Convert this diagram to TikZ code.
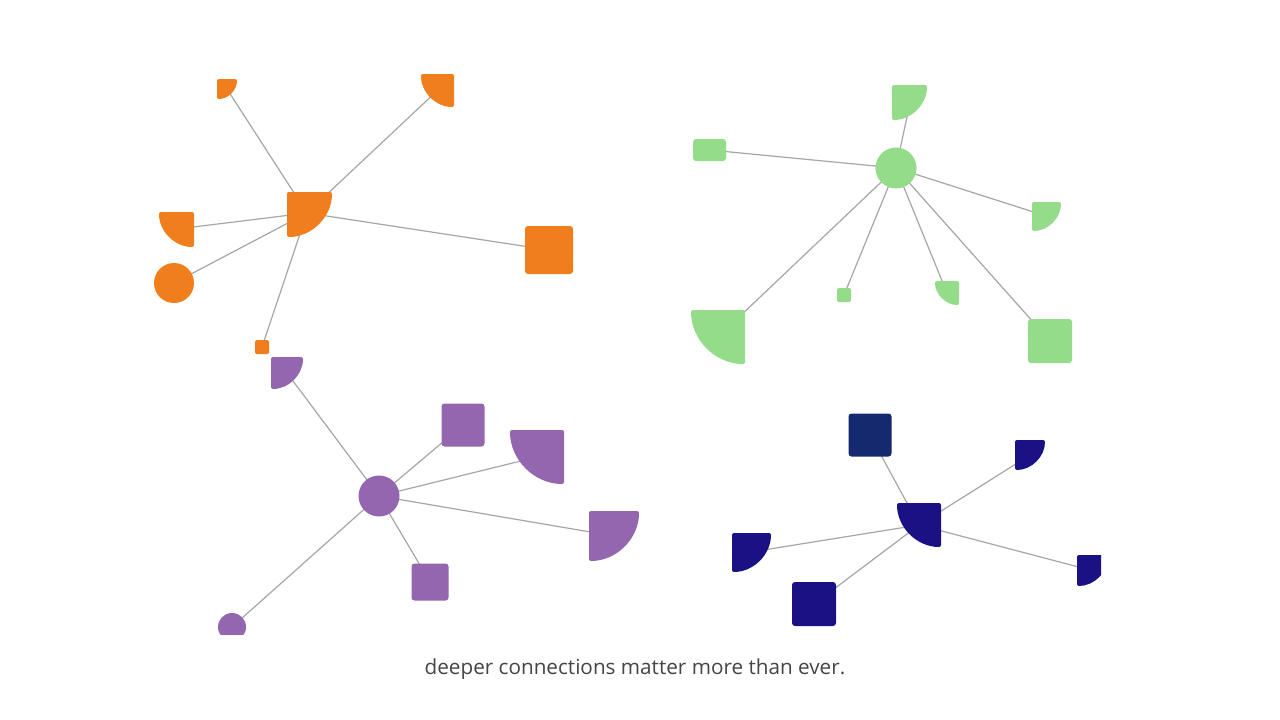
\documentclass[tikz,border=0pt]{standalone}
\usepackage{fontspec}
\setmainfont{Open Sans}
\usetikzlibrary{positioning}

\definecolor{orng}{HTML}{F07E1C}
\definecolor{grn}{HTML}{94DC8A}
\definecolor{purp}{HTML}{9366AF}
\definecolor{navy}{HTML}{1A1284}
\definecolor{navytwo}{HTML}{15296F}
\definecolor{linkgray}{HTML}{A6A6A6}
\definecolor{txtgray}{HTML}{454545}

\tikzset{
  link/.style={draw=linkgray, line width=1.2pt},
  sqnode/.style={rectangle, rounded corners=3pt, inner sep=0pt, minimum size=#1},
  dot/.style={circle, inner sep=0pt, minimum size=#1},
}

% quarter disc: colour, corner x, corner y, radius, side (1 = opens right, -1 = opens left)
\newcommand{\qdisc}[5]{%
  \fill[#1, rounded corners=2pt] ({#2+(#5)*#4},#3)
    arc[start angle={90-90*(#5)}, end angle=90, radius=#4] -- (#2,#3) -- cycle;}

\begin{document}
\begin{tikzpicture}[x=1pt, y=-1pt]

    \fill[white] (0,0) rectangle (1280,720);
    \useasboundingbox (0,0) rectangle (1280,720);

    % centres
    \coordinate (oh) at (307,213);
    \coordinate (o1) at (227,89);
    \coordinate (o2) at (438,90);
    \coordinate (o3) at (177,229);
    \coordinate (o4) at (174,283);
    \coordinate (o5) at (262,347);
    \coordinate (o6) at (549,250);

    \coordinate (gh) at (896,168);
    \coordinate (g1) at (910,103);
    \coordinate (g2) at (709.5,150);
    \coordinate (g3) at (1046,216);
    \coordinate (g4) at (718,337);
    \coordinate (g5) at (844,295);
    \coordinate (g6) at (947,293);
    \coordinate (g7) at (1050,341);

    \coordinate (ph) at (379,496);
    \coordinate (p1) at (287,373);
    \coordinate (p2) at (463,425);
    \coordinate (p3) at (537,457);
    \coordinate (p4) at (614,536);
    \coordinate (p5) at (430,582);
    \coordinate (p6) at (232,627);

    \coordinate (nh) at (919,525);
    \coordinate (n1) at (870,435);
    \coordinate (n2) at (1030,455);
    \coordinate (n3) at (751,552);
    \coordinate (n4) at (814,604);
    \coordinate (n5) at (1090,570);

    % links
    \foreach \t in {o1,o2,o3,o4,o5,o6} \draw[link] (oh) -- (\t);
    \foreach \t in {g1,g2,g3,g4,g5,g6,g7} \draw[link] (gh) -- (\t);
    \foreach \t in {p1,p2,p3,p4,p5,p6} \draw[link] (ph) -- (\t);
    \foreach \t in {n1,n2,n3,n4,n5} \draw[link] (nh) -- (\t);

    % orange
    \qdisc{orng}{287}{192}{45}{1}
    \qdisc{orng}{217}{79}{20}{1}
    \qdisc{orng}{454}{74}{33}{-1}
    \qdisc{orng}{194}{212}{35}{-1}
    \node[dot=40pt, fill=orng] (o4n) at (o4) {};
    \node[sqnode=14pt, rounded corners=1.5pt, fill=orng] (o5n) at (o5) {};
    \node[sqnode=48pt, fill=orng] (o6n) at (o6) {};

    % green
    \node[dot=41pt, fill=grn] (ghn) at (gh) {};
    \qdisc{grn}{892}{85}{35}{1}
    \node[sqnode=22pt, minimum width=33pt, fill=grn] (g2n) at (g2) {};
    \qdisc{grn}{1032}{202}{29}{1}
    \qdisc{grn}{745}{310}{54}{-1}
    \node[sqnode=14pt, rounded corners=1.5pt, fill=grn] (g5n) at (g5) {};
    \qdisc{grn}{959}{281}{24}{-1}
    \node[sqnode=44pt, fill=grn] (g7n) at (g7) {};

    % purple
    \node[dot=41pt, fill=purp] (phn) at (ph) {};
    \qdisc{purp}{271}{357}{32}{1}
    \node[sqnode=43pt, fill=purp] (p2n) at (p2) {};
    \qdisc{purp}{564}{430}{54}{-1}
    \qdisc{purp}{589}{511}{50}{1}
    \node[sqnode=37pt, fill=purp] (p5n) at (p5) {};
    \begin{scope}
      \clip (200,600) rectangle (260,634);
      \node[dot=28pt, fill=purp] (p6n) at (p6) {};
    \end{scope}

    % navy
    \qdisc{navy}{941}{503}{44}{-1}
    \node[sqnode=43pt, fill=navytwo] (n1n) at (n1) {};
    \qdisc{navy}{1015}{440}{30}{1}
    \qdisc{navy}{732}{533}{39}{1}
    \node[sqnode=44pt, fill=navy] (n4n) at (n4) {};
    \begin{scope}
      \clip (1070,550) rectangle (1101,600);
      \qdisc{navy}{1077}{555}{31}{1}
    \end{scope}

    \node[text=txtgray, font=\fontsize{20.7}{25}\selectfont] (caption) at (635,669)
        {deeper connections matter more than ever.};

\end{tikzpicture}
\end{document}
